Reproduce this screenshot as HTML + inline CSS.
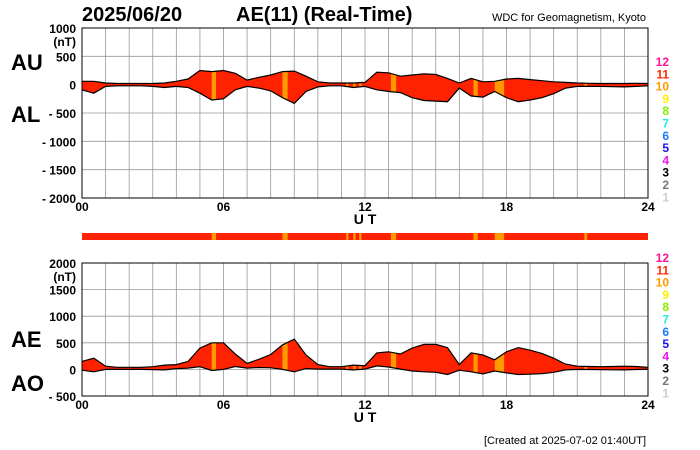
<!DOCTYPE html>
<html><head><meta charset="utf-8"><style>
html,body{margin:0;padding:0;background:#fff}
svg{display:block;font-family:"Liberation Sans",sans-serif}
</style></head><body>
<svg id="c" width="700" height="450" viewBox="0 0 700 450" xmlns="http://www.w3.org/2000/svg">
<text x="82" y="21" font-size="20" font-weight="bold">2025/06/20</text>
<text x="236" y="21" font-size="20" font-weight="bold">AE(11) (Real-Time)</text>
<text x="646" y="21" font-size="11" text-anchor="end">WDC for Geomagnetism, Kyoto</text>
<text x="11" y="70" font-size="22" font-weight="bold">AU</text>
<text x="11" y="122" font-size="22" font-weight="bold">AL</text>
<text x="11" y="347" font-size="22" font-weight="bold">AE</text>
<text x="11" y="391" font-size="22" font-weight="bold">AO</text>
<text x="646" y="444" font-size="11" text-anchor="end">[Created at 2025-07-02 01:40UT]</text>
<g id="g"></g>
</svg>
<script>
const hours=[0,0.5,1,1.5,2,2.5,3,3.5,4,4.5,5,5.5,6,6.5,7,7.5,8,8.5,9,9.5,10,10.5,11,11.5,12,12.5,13,13.5,14,14.5,15,15.5,16,16.5,17,17.5,18,18.5,19,19.5,20,20.5,21,21.5,22,22.5,23,23.5,24];
const auValues=[60,60,30,20,20,20,20,30,60,100,250,230,250,200,80,130,170,230,240,150,50,30,30,30,40,220,210,150,170,190,180,110,30,110,50,60,100,110,90,70,50,40,30,25,20,20,20,25,20];
const alValues=[-90,-150,-30,-20,-20,-20,-30,-50,-30,-50,-150,-270,-250,-90,-30,-60,-110,-230,-330,-120,-40,-20,-20,-50,-30,-90,-120,-140,-230,-280,-290,-300,-60,-200,-220,-120,-230,-300,-270,-230,-160,-60,-30,-30,-30,-35,-40,-30,-20];
const stationTenStarts=[5.5,8.5,11.2,11.5,11.75,13.1,16.6,17.5,21.3];
const stationTenEnds=[5.68,8.72,11.3,11.6,11.85,13.32,16.78,17.9,21.42];
const xTicks=["00","06","12","18","24"];
const topTicks=[1000,500,0,-500,-1000,-1500,-2000];
const botTicks=[2000,1500,1000,500,0,-500];
const legendNums=["12","11","10","9","8","7","6","5","4","3","2","1"];
const legendColors=["#ff1493","#ff2a00","#ff9900","#ffee00","#88ee00","#22eedd","#1e78ff","#1a10ee","#ee10ee","#000","#777","#ccc"];

const NS="http://www.w3.org/2000/svg";
const g=document.getElementById('g');
function mk(t,a,p){const e=document.createElementNS(NS,t);for(const k in a)e.setAttribute(k,a[k]);(p||g).appendChild(e);return e;}
const X0=82,X1=648;
const xs=h=>X0+(X1-X0)*h/24;
function panel(id,top,bot,vmax,vmin,ticks,upper,lower,legTop){
  const ys=v=>top+(bot-top)*(vmax-v)/(vmax-vmin);
  const pg=mk('g',{});
  
  
  for(let h=0;h<=24;h++){const l=mk('line',{x1:xs(h),x2:xs(h),y1:top,y2:bot,stroke:'#999','stroke-width':0.8},pg);}
  ticks.forEach((v,i)=>{const l=mk('line',{x1:X0,x2:X1,y1:ys(v),y2:ys(v),stroke:'#999','stroke-width':0.8},pg);
    const t=mk('text',{x:76,y:ys(v)+5,'font-size':12,'font-weight':'bold','text-anchor':'end'},pg);t.textContent=v<0?'- '+(-v):String(v);
    
    if(i===0){const u=mk('text',{x:76,y:ys(v)+18,'font-size':12,'font-weight':'bold','text-anchor':'end'},pg);u.textContent='(nT)';}});
  let d='';
  hours.forEach((h,i)=>{d+=(i?'L':'M')+xs(h).toFixed(1)+','+ys(upper[i]).toFixed(1);});
  for(let i=hours.length-1;i>=0;i--)d+='L'+xs(hours[i]).toFixed(1)+','+ys(lower[i]).toFixed(1);
  d+='Z';
  const cp=mk('clipPath',{id:'clip-'+id},pg);mk('path',{d:d},cp);
  const area=mk('path',{d:d,fill:'#ff2200',stroke:'none'},pg);
  
  stationTenStarts.forEach((s,i)=>{const r=mk('rect',{x:xs(s),y:top,width:xs(stationTenEnds[i])-xs(s),height:bot-top,fill:'#ff9900','clip-path':'url(#clip-'+id+')'},pg);});
  let du='',dl='';
  hours.forEach((h,i)=>{du+=(i?'L':'M')+xs(h).toFixed(1)+','+ys(upper[i]).toFixed(1);dl+=(i?'L':'M')+xs(h).toFixed(1)+','+ys(lower[i]).toFixed(1);});
  const lu=mk('path',{d:du,fill:'none',stroke:'#000','stroke-width':1.2},pg);
  const ll=mk('path',{d:dl,fill:'none',stroke:'#000','stroke-width':1.2},pg);
  const fr=mk('rect',{x:X0,y:top,width:X1-X0,height:bot-top,fill:'none',stroke:'#000','stroke-width':1},pg);
  xTicks.forEach((t,i)=>{const e=mk('text',{x:xs(i*6),y:bot+13,'font-size':12,'font-weight':'bold','text-anchor':'middle'},pg);e.textContent=t;});
  const ut=mk('text',{x:365,y:bot+26,'font-size':14,'font-weight':'bold','text-anchor':'middle'},pg);ut.textContent='U T';
  legendNums.forEach((n,i)=>{const e=mk('text',{x:669,y:legTop+i*12.3,'font-size':12,'font-weight':'bold','text-anchor':'end',fill:legendColors[i]},pg);e.textContent=n;});
}
panel('au-al',28,198,1000,-2000,topTicks,auValues,alValues,66);
const aeValues=auValues.map((v,i)=>v-alValues[i]);
const aoValues=auValues.map((v,i)=>(v+alValues[i])/2);
panel('ae-ao',263,396,2000,-500,botTicks,aeValues,aoValues,262);
const bar=mk('rect',{x:X0,y:233,width:X1-X0,height:7,fill:'#ff2200'});


stationTenStarts.forEach((s,i)=>{const r=mk('rect',{x:xs(s),y:233,width:xs(stationTenEnds[i])-xs(s),height:7,fill:'#ff9900'});});
</script>
</body></html>
